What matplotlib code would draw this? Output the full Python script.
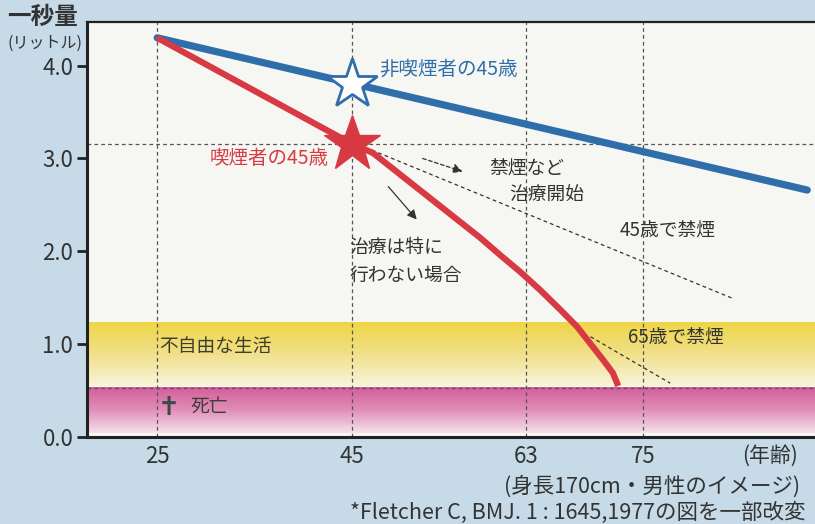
import numpy as np
import matplotlib
matplotlib.use('Agg')
import matplotlib.pyplot as plt
from matplotlib.colors import LinearSegmentedColormap

plt.rcParams['font.family'] = ['Noto Sans CJK JP', 'DejaVu Sans']

# data
ages_ticks = [25, 45, 63, 75]
fev_ticks = [0.0, 1.0, 2.0, 3.0, 4.0]
fev_tick_labels = ['0.0', '1.0', '2.0', '3.0', '4.0']

ages_nonsmoker = [25, 91.9]
fev_nonsmoker = [4.30, 2.66]

ages_smoker = [25, 45, 47.2, 58.2, 60.3, 62.35, 64.4, 66.5, 68.2, 69.55, 70.9, 71.9, 72.45]
fev_smoker = [4.30, 3.16, 3.06, 2.15, 1.96, 1.78, 1.585, 1.37, 1.19, 1.01, 0.83, 0.69, 0.55]

star_age = 45
star_nonsmoker = 3.80
star_smoker = 3.16

quit45_ages = [47.1, 84.3]
quit45_fev = [3.09, 1.49]
quit65_ages = [69.6, 77.8]
quit65_fev = [1.08, 0.58]

band_disabled = (0.55, 1.23)
band_death = (0.04, 0.53)

XMIN, XMAX = 17.8, 92.7
YMIN, YMAX = 0.0, 4.47

BLUE = '#2f6eaa'
RED = '#d83a44'
TXT = '#333333'

fig = plt.figure(figsize=(8.15, 5.24), dpi=100, facecolor='#c6dbe7')
ax = fig.add_axes([0.107, 0.166, 0.893, 0.792])
ax.set_facecolor('#f6f6f3')


def grad_band(y0, y1, c_top, c_mid, c_bot):
    cmap = LinearSegmentedColormap.from_list('band', [c_bot, c_mid, c_top])
    grad = np.linspace(0, 1, 256).reshape(-1, 1)
    ax.imshow(grad, extent=[XMIN, XMAX, y0, y1], origin='lower', cmap=cmap,
              aspect='auto', zorder=1, interpolation='bicubic')


grad_band(band_disabled[0], band_disabled[1], '#eed646', '#f1e08a', '#f9f4dc')
grad_band(band_death[0], band_death[1], '#d35d98', '#e08fb9', '#f5e2ec')

# dashed reference lines
for a in ages_ticks:
    ax.axvline(a, color='#555555', lw=0.9, ls=(0, (3, 2.5)), zorder=2)
ax.axhline(star_smoker, color='#555555', lw=0.9, ls=(0, (3, 2.5)), zorder=2)
ax.axhline(band_death[1], color='#555555', lw=0.9, ls=(0, (3, 2.5)), zorder=2)

# quit-smoking dashed lines
ax.plot(quit45_ages, quit45_fev, color='#333333', lw=0.9, ls=(0, (3, 2.5)), zorder=3)
ax.plot(quit65_ages, quit65_fev, color='#333333', lw=0.9, ls=(0, (3, 2.5)), zorder=3)

# main lines
ax.plot(ages_nonsmoker, fev_nonsmoker, color=BLUE, lw=5.2, solid_capstyle='round', zorder=4)
ax.plot(ages_smoker, fev_smoker, color=RED, lw=4.5, solid_capstyle='butt',
        solid_joinstyle='round', zorder=4)

# stars
ax.plot(star_age, star_nonsmoker, marker='*', ms=38, mfc='white', mec=BLUE, mew=2, zorder=5)
ax.plot(star_age, star_smoker, marker='*', ms=42, mfc=RED, mec=RED, zorder=5)

# arrows
ax.annotate('', xy=(56.7, 2.85), xytext=(52.05, 3.01),
            arrowprops=dict(arrowstyle='-|>', color='#333333', lw=0.9, ls=(0, (3, 2)),
                            mutation_scale=14), zorder=5)
ax.annotate('', xy=(51.9, 2.32), xytext=(48.6, 2.72),
            arrowprops=dict(arrowstyle='-|>', color='#333333', lw=0.9,
                            mutation_scale=14), zorder=5)

# labels in plot
ax.text(47.8, 3.96, '非喫煙者の45歳', color=BLUE, fontsize=14, va='center', zorder=6)
ax.text(42.6, 3.0, '喫煙者の45歳', color=RED, fontsize=14, va='center', ha='right', zorder=6)
ax.text(59.2, 2.89, '禁煙など', color=TXT, fontsize=13.5, va='center', zorder=6)
ax.text(61.2, 2.61, '治療開始', color=TXT, fontsize=13.5, va='center', zorder=6)
ax.text(44.8, 2.04, '治療は特に', color=TXT, fontsize=13.5, va='center', zorder=6)
ax.text(44.8, 1.74, '行わない場合', color=TXT, fontsize=13.5, va='center', zorder=6)
ax.text(72.6, 2.22, '45歳で禁煙', color=TXT, fontsize=13.5, va='center', zorder=6)
ax.text(73.5, 1.07, '65歳で禁煙', color=TXT, fontsize=13.5, va='center', zorder=6)
ax.text(25.2, 0.98, '不自由な生活', color='#3d3d2a', fontsize=13.5, va='center', zorder=6)
ax.text(26.2, 0.31, '✝', color='#3d4a44', fontsize=19, va='center', ha='center', zorder=6,
        family=['DejaVu Sans'], fontweight='bold')
ax.text(28.4, 0.33, '死亡', color='#3d3d3d', fontsize=13.5, va='center', zorder=6)

# axes styling
ax.set_xlim(XMIN, XMAX)
ax.set_ylim(YMIN, YMAX)
ax.set_xticks(ages_ticks)
ax.set_xticklabels([str(a) for a in ages_ticks], fontsize=16, color=TXT)
ax.set_yticks(fev_ticks)
ax.set_yticklabels(fev_tick_labels, fontsize=16, color=TXT)
ax.tick_params(axis='x', length=0, pad=6)
ax.tick_params(axis='y', length=7, width=2, pad=3, color='#222222')
ax.spines['right'].set_visible(False)
ax.spines['left'].set_linewidth(2.2)
ax.spines['bottom'].set_linewidth(2.2)
ax.spines['top'].set_linewidth(1.6)
for s in ['left', 'bottom', 'top']:
    ax.spines[s].set_color('#222222')

# outside texts
fig.text(0.052, 0.968, '一秒量', fontsize=17, fontweight='bold', color=TXT, ha='center', va='center')
fig.text(0.055, 0.918, '(リットル)', fontsize=11.5, color=TXT, ha='center', va='center')
fig.text(0.945, 0.131, '(年齢)', fontsize=15, color=TXT, ha='center', va='center')
fig.text(0.982, 0.071, '(身長170cm・男性のイメージ)', fontsize=15.5, color=TXT, ha='right', va='center')
fig.text(0.988, 0.021, '*Fletcher C, BMJ. 1 : 1645,1977の図を一部改変', fontsize=15.5,
         color=TXT, ha='right', va='center')

fig.savefig('out.png', dpi=100, facecolor=fig.get_facecolor())
